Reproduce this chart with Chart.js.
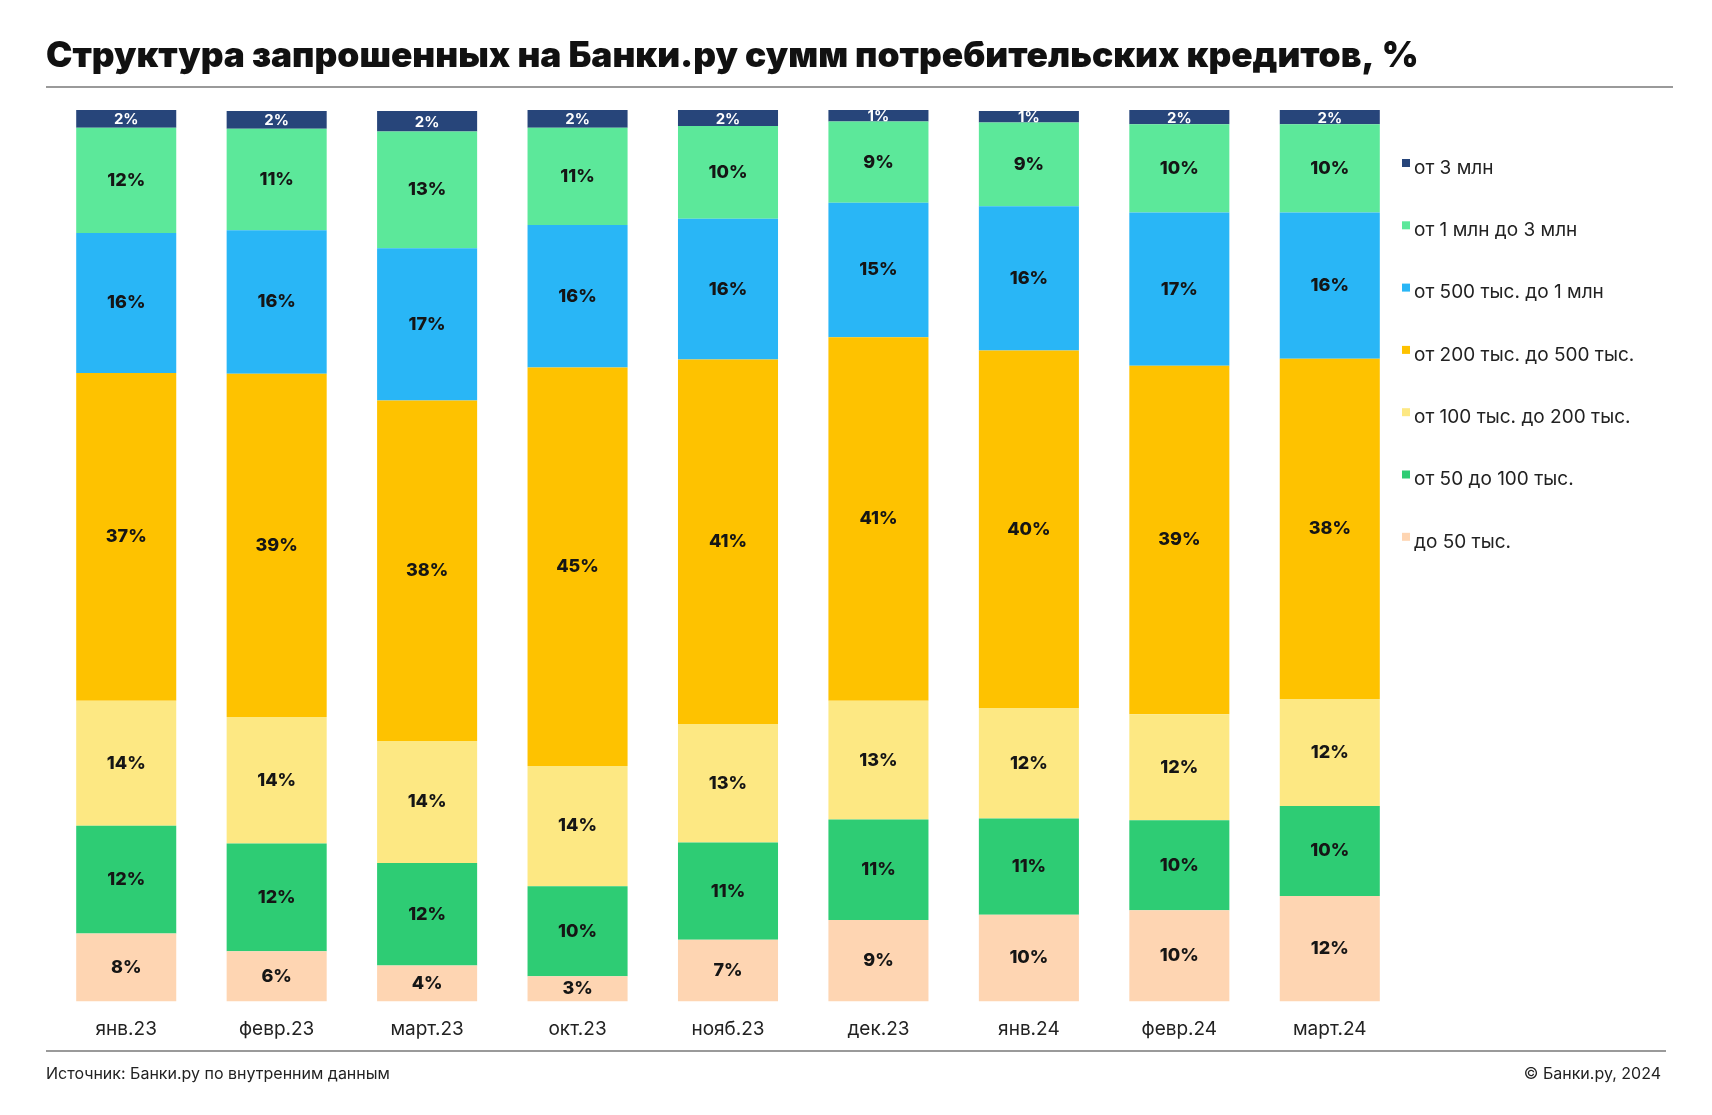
<!DOCTYPE html>
<html lang="ru">
<head>
<meta charset="utf-8">
<title>Структура запрошенных на Банки.ру сумм потребительских кредитов</title>
<script src="https://cdn.jsdelivr.net/npm/chart.js@4.4.1/dist/chart.umd.min.js"></script>
<style>
  html, body { margin: 0; padding: 0; background: #fff; }
  #wrap { position: relative; width: 1712px; height: 1115px; }
</style>
</head>
<body>
<div id="wrap"><canvas id="chart"></canvas></div>
<script>
// Категории (месяцы)
const categories = ['янв.23', 'февр.23', 'март.23', 'окт.23', 'нояб.23', 'дек.23', 'янв.24', 'февр.24', 'март.24'];

// Доли по диапазонам сумм, % (снизу вверх)
const upTo50k = [7.6, 5.6, 4.0, 2.8, 6.9, 9.1, 9.7, 10.2, 11.8];
const from50kTo100k = [12.1, 12.1, 11.5, 10.1, 10.9, 11.3, 10.8, 10.1, 10.1];
const from100kTo200k = [14.0, 14.2, 13.7, 13.5, 13.3, 13.3, 12.4, 11.9, 12.0];
const from200kTo500k = [36.8, 38.5, 38.2, 44.7, 40.9, 40.8, 40.1, 39.1, 38.2];
const from500kTo1m = [15.7, 16.1, 17.1, 16.0, 15.8, 15.1, 16.2, 17.2, 16.4];
const from1mTo3m = [11.8, 11.4, 13.1, 10.9, 10.4, 9.1, 9.4, 9.9, 9.9];
const from3m = [2.0, 2.0, 2.3, 2.0, 1.8, 1.3, 1.3, 1.6, 1.6];

const seriesNames = ['до 50 тыс.', 'от 50 до 100 тыс.', 'от 100 тыс. до 200 тыс.', 'от 200 тыс. до 500 тыс.', 'от 500 тыс. до 1 млн', 'от 1 млн до 3 млн', 'от 3 млн'];
const seriesColors = ['#FED5B2', '#2ECC74', '#FDE883', '#FEC200', '#29B6F6', '#5CE89A', '#27457A'];
const seriesValues = [upTo50k, from50kTo100k, from100kTo200k, from200kTo500k, from500kTo1m, from1mTo3m, from3m];

const titleText = 'Структура запрошенных на Банки.ру сумм потребительских кредитов, %';
const sourceText = 'Источник: Банки.ру по внутренним данным';
const copyrightText = '© Банки.ру, 2024';

const FONT = 'Inter, "Noto Sans", sans-serif';

// Подписи значений внутри сегментов
const valueLabels = {
    id: 'valueLabels',
    afterDatasetsDraw(chart) {
        const ctx = chart.ctx;
        ctx.save();
        ctx.textAlign = 'center';
        ctx.textBaseline = 'middle';
        chart.data.datasets.forEach((ds, i) => {
            const meta = chart.getDatasetMeta(i);
            const isTop = i === chart.data.datasets.length - 1;
            ctx.font = (isTop ? '700 15px ' : '800 18px ') + FONT;
            ctx.fillStyle = isTop ? '#ffffff' : '#151515';
            meta.data.forEach((bar, j) => {
                const y = (bar.y + bar.base) / 2 + (isTop ? 1 : 0);
                ctx.fillText(Math.round(ds.data[j]) + '%', bar.x, y);
            });
        });
        ctx.restore();
    }
};

// Заголовок, линии, подвал и легенда справа
const decorations = {
    id: 'decorations',
    afterDraw(chart) {
        const ctx = chart.ctx;
        ctx.save();

        // заголовок
        ctx.fillStyle = '#111';
        ctx.textBaseline = 'middle';
        ctx.textAlign = 'left';
        let size = 36;
        ctx.font = '900 ' + size + 'px ' + FONT;
        const w = ctx.measureText(titleText).width;
        if (w > 1373) {
            size = size * 1373 / w;
            ctx.font = '900 ' + size + 'px ' + FONT;
        }
        ctx.fillText(titleText, 46, 56);

        // линии
        ctx.strokeStyle = '#9a9a9a';
        ctx.lineWidth = 2;
        ctx.beginPath();
        ctx.moveTo(46, 87); ctx.lineTo(1673, 87);
        ctx.moveTo(46, 1051); ctx.lineTo(1666, 1051);
        ctx.stroke();

        // подвал
        ctx.fillStyle = '#222';
        ctx.font = '400 16px ' + FONT;
        ctx.fillText(sourceText, 46, 1074);
        ctx.textAlign = 'right';
        ctx.fillText(copyrightText, 1661, 1074);

        // легенда (сверху вниз — в обратном порядке)
        ctx.textAlign = 'left';
        ctx.font = '400 19px ' + FONT;
        const n = chart.data.datasets.length;
        for (let k = 0; k < n; k++) {
            const ds = chart.data.datasets[n - 1 - k];
            const cy = 168 + k * 62.3;
            ctx.fillStyle = ds.backgroundColor;
            ctx.fillRect(1402, cy - 9, 8, 8);
            ctx.fillStyle = '#222';
            ctx.fillText(ds.label, 1414, cy);
        }
        ctx.restore();
    }
};

const datasets = seriesNames.map((name, i) => ({
    label: name,
    data: seriesValues[i],
    backgroundColor: seriesColors[i],
    borderWidth: 0,
    barPercentage: 0.665,
    categoryPercentage: 1,
    clip: false
}));

new Chart(document.getElementById('chart'), {
    type: 'bar',
    data: { labels: categories, datasets: datasets },
    options: {
        responsive: true,
        maintainAspectRatio: false,
        animation: false,
        layout: { padding: { left: 51, right: 307, top: 110, bottom: 65 } },
        plugins: {
            legend: { display: false },
            tooltip: { enabled: false }
        },
        scales: {
            x: {
                stacked: true,
                grid: { display: false },
                border: { display: false },
                ticks: { color: '#222', font: { family: FONT, size: 19 }, padding: 9 }
            },
            y: {
                stacked: true,
                display: false,
                min: 0,
                max: 100
            }
        }
    },
    plugins: [valueLabels, decorations]
});
</script>
</body>
</html>
